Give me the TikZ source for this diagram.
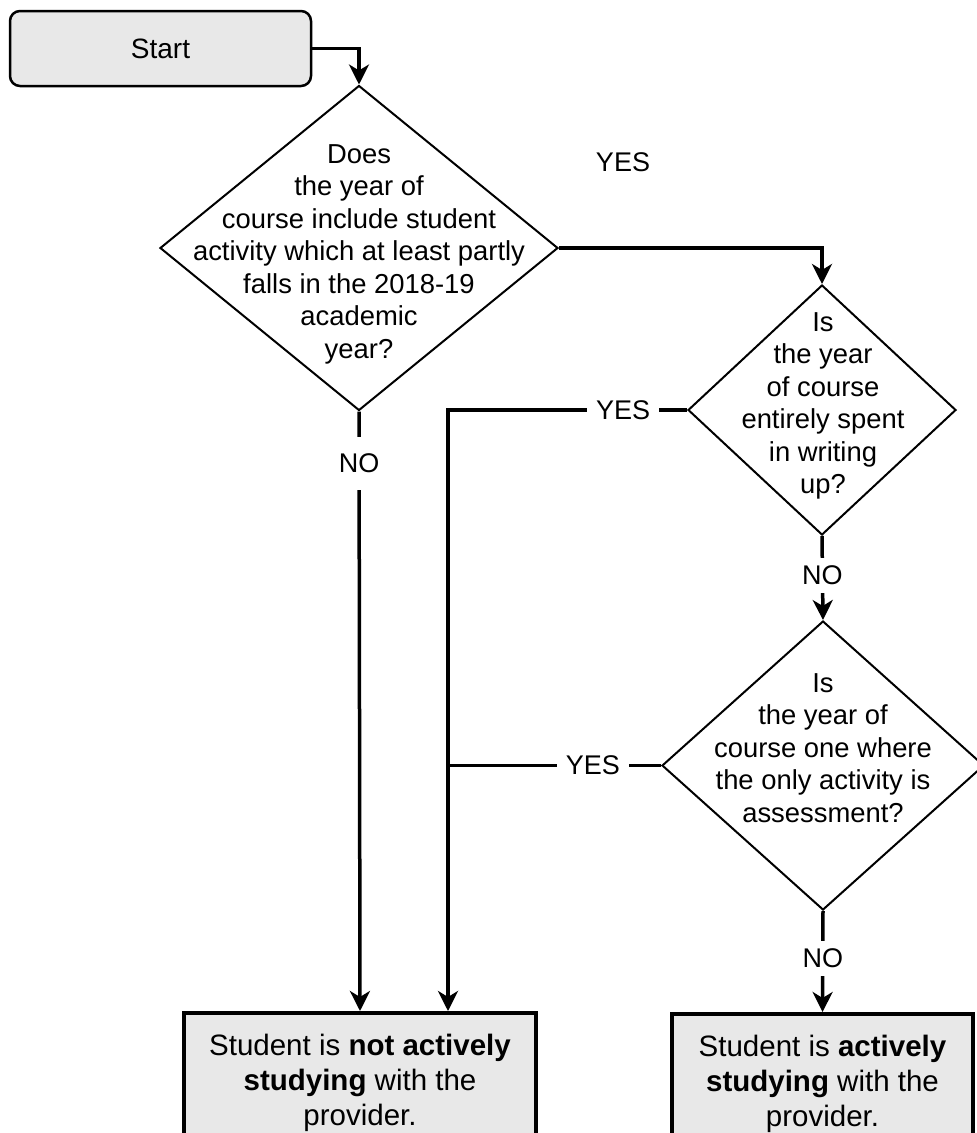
\documentclass[tikz,border=0pt]{standalone}
\usepackage{fontspec}
\setmainfont{Liberation Sans}
\usetikzlibrary{shapes.geometric,arrows.meta}
\definecolor{boxgrey}{HTML}{E8E8E8}
\begin{document}
\begin{tikzpicture}[x=1pt,y=-1pt,
  conn/.style={line width=3.5pt,-{Stealth[length=20pt,width=20pt,inset=6pt]}},
  plainline/.style={line width=3.5pt},
  dia/.style={diamond,draw,line width=2pt,inner sep=0pt},
  dtext/.style={align=center,inner sep=0pt,font=\fontsize{27.4}{32.5}\selectfont},
  lbl/.style={fill=white,inner xsep=9pt,inner ysep=8pt,font=\fontsize{27}{32}\selectfont},
  startbox/.style={draw,line width=2.5pt,rounded corners=10pt,fill=boxgrey,minimum width=301pt,minimum height=75pt,inner sep=0pt,font=\fontsize{28}{32}\selectfont},
  endbox/.style={draw,line width=3.5pt,fill=boxgrey,anchor=north,minimum height=140pt,align=center,inner sep=0pt,font=\fontsize{29.5}{35}\selectfont}
]
\useasboundingbox (0,0) rectangle (977,1133);
\clip (0,0) rectangle (977,1133);

% nodes
\node[startbox] (start) at (160.5,48.5) {Start};

\node[dia,minimum width=398pt,minimum height=325pt] (d1) at (359,248) {};
\node[dtext] (d1t) at (359,254) {Does\\the year of\\course include student\\activity which at least partly\\falls in the 2018-19\\academic\\year?};

\node[dia,minimum width=268pt,minimum height=250pt] (d2) at (822,410) {};
\node[dtext] (d2t) at (823,406) {Is\\the year\\of course\\entirely spent\\in writing\\up?};

\node[dia,minimum width=322pt,minimum height=289pt] (d3) at (823,765.5) {};
\node[dtext] (d3t) at (823,748) {Is\\the year of\\course one where\\the only activity is\\assessment?};

\node[endbox,minimum width=352pt] (e1) at (360,1011) {Student is \textbf{not actively}\\\textbf{studying} with the\\provider.};
\node[endbox,minimum width=301pt] (e2) at (822.5,1012) {Student is \textbf{actively}\\\textbf{studying} with the\\provider.};

\node[font=\fontsize{27}{32}\selectfont] (yes1) at (623,162) {YES};

\coordinate (e1in) at ([xshift=88pt]e1.north);

% connectors
\draw[conn] (start.east) -| (d1.north);
\draw[conn] (d1.east) -| (d2.north);
\draw[conn] (d1.south) -- node[lbl,pos=0.0865,inner ysep=17pt] (no1) {NO} (e1.north);
\draw[conn] (d2.west) -- node[lbl,pos=0.267] (yes2) {YES} (d2.west -| e1in) -- (e1in);
\draw[plainline] (d3.west) -- node[lbl,pos=0.32] (yes3) {YES} (d3.west -| e1in);
\draw[conn] (d2.south) -- node[lbl,pos=0.465] (no2) {NO} (d3.north);
\draw[conn] (d3.south) -- node[lbl,pos=0.47] (no3) {NO} (e2.north);
\end{tikzpicture}
\end{document}
